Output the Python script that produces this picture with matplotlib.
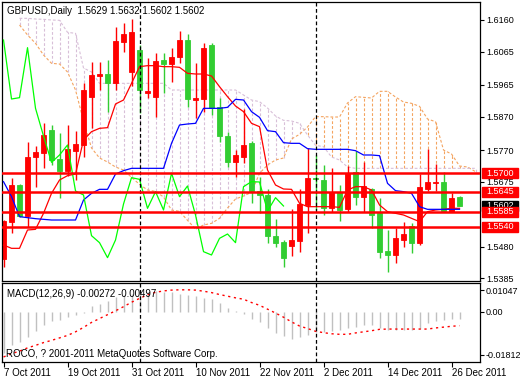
import numpy as np
import matplotlib
matplotlib.use("Agg")
import matplotlib.pyplot as plt
from matplotlib.patches import Rectangle
import matplotlib.transforms as mtransforms

plt.rcParams['font.family'] = ['Liberation Sans', 'DejaVu Sans']

nan = np.nan

# ---------------- data ----------------
date_labels = ['7 Oct 2011', '19 Oct 2011', '31 Oct 2011', '10 Nov 2011',
               '22 Nov 2011', '2 Dec 2011', '14 Dec 2011', '26 Dec 2011']
date_bars = [0, 8, 16, 24, 32, 40, 48, 56]
month_start_bars = [17, 39]

open_ = [1.5442, 1.5555, 1.5665, 1.5572, 1.5750, 1.5762, 1.5830, 1.5742, 1.5708, 1.5768,
         1.5785, 1.5930, 1.5992, 1.5998, 1.5972, 1.6095, 1.6005, 1.6070, 1.5942, 1.5930,
         1.6040, 1.6028, 1.6048, 1.6100, 1.5920, 1.5923, 1.6085, 1.5898, 1.5812, 1.5733,
         1.5750, 1.5792, 1.5647, 1.5635, 1.5512, 1.5494, 1.5483, 1.5498, 1.5605, 1.5685,
         1.5680, 1.5595, 1.5645, 1.5592, 1.5705, 1.5630, 1.5652, 1.5582, 1.5467, 1.5455,
         1.5500, 1.5543, 1.5490, 1.5653, 1.5672, 1.5675, 1.5585, 1.5629]
high = [1.5560, 1.5685, 1.5668, 1.5795, 1.5783, 1.5850, 1.5845, 1.5820, 1.5845, 1.5827,
        1.5970, 1.6035, 1.6035, 1.6040, 1.6140, 1.6150, 1.6162, 1.6085, 1.6045, 1.6060,
        1.6062, 1.6077, 1.6127, 1.6118, 1.6030, 1.6092, 1.6092, 1.5925, 1.5825, 1.5770,
        1.5892, 1.5798, 1.5690, 1.5652, 1.5562, 1.5500, 1.5592, 1.5653, 1.5775, 1.5755,
        1.5725, 1.5715, 1.5665, 1.5722, 1.5768, 1.5735, 1.5655, 1.5625, 1.5530, 1.5535,
        1.5555, 1.5551, 1.5698, 1.5772, 1.5727, 1.5705, 1.5642, 1.5632]
low = [1.5420, 1.5522, 1.5569, 1.5540, 1.5660, 1.5715, 1.5725, 1.5627, 1.5693, 1.5680,
       1.5750, 1.5835, 1.5950, 1.5885, 1.5950, 1.6065, 1.5962, 1.5882, 1.5925, 1.5870,
       1.5942, 1.5975, 1.6030, 1.5900, 1.5865, 1.5885, 1.5875, 1.5795, 1.5720, 1.5690,
       1.5732, 1.5610, 1.5580, 1.5490, 1.5480, 1.5420, 1.5453, 1.5463, 1.5522, 1.5590,
       1.5575, 1.5585, 1.5558, 1.5585, 1.5605, 1.5585, 1.5535, 1.5447, 1.5405, 1.5430,
       1.5480, 1.5462, 1.5485, 1.5647, 1.5647, 1.5585, 1.5584, 1.5602]
close = [1.5558, 1.5665, 1.5572, 1.5748, 1.5764, 1.5815, 1.5740, 1.5708, 1.5773, 1.5788,
         1.5950, 1.5995, 1.5998, 1.5970, 1.6097, 1.6118, 1.6123, 1.5950, 1.5948, 1.6037,
         1.6028, 1.6050, 1.6100, 1.5923, 1.5927, 1.6077, 1.5895, 1.5812, 1.5733, 1.5755,
         1.5785, 1.5647, 1.5635, 1.5513, 1.5492, 1.5447, 1.5500, 1.5608, 1.5687, 1.5682,
         1.5595, 1.5645, 1.5590, 1.5700, 1.5630, 1.5662, 1.5575, 1.5465, 1.5455, 1.5505,
         1.5518, 1.5492, 1.5660, 1.5675, 1.5674, 1.5587, 1.5627, 1.5602]

tenkan = [1.5485, 1.5475, 1.5475, 1.5530, 1.5532, 1.5580, 1.5640, 1.5680, 1.5693, 1.5698,
          1.5800, 1.5825, 1.5835, 1.5837, 1.5908, 1.5920, 1.5970, 1.6020, 1.6023, 1.6023,
          1.6020, 1.6020, 1.6018, 1.6000, 1.5998, 1.5998, 1.5992, 1.5960, 1.5930, 1.5902,
          1.5885, 1.5850, 1.5840, 1.5710, 1.5665, 1.5653, 1.5652, 1.5610, 1.5600, 1.5600,
          1.5600, 1.5600, 1.5598, 1.5650, 1.5660, 1.5660, 1.5650, 1.5605, 1.5585, 1.5580,
          1.5575, 1.5565, 1.5555, 1.5585, 1.5590, 1.5592, 1.5595, 1.5595]
kijun = [1.5675, 1.5630, 1.5570, 1.5567, 1.5564, 1.5562, 1.5560, 1.5560, 1.5560, 1.5560,
         1.5620, 1.5640, 1.5652, 1.5652, 1.5698, 1.5708, 1.5715, 1.5715, 1.5715, 1.5715,
         1.5715, 1.5790, 1.5845, 1.5848, 1.5850, 1.5895, 1.5895, 1.5895, 1.5898, 1.5922,
         1.5920, 1.5885, 1.5868, 1.5828, 1.5825, 1.5792, 1.5790, 1.5790, 1.5774, 1.5772,
         1.5772, 1.5772, 1.5772, 1.5772, 1.5768, 1.5755, 1.5755, 1.5753, 1.5670, 1.5648,
         1.5645, 1.5640, 1.5600, 1.5592, 1.5592, 1.5592, 1.5592, 1.5592]
chikou = [1.6100, 1.5923, 1.5927, 1.6077, 1.5895, 1.5812, 1.5733, 1.5755, 1.5785, 1.5647,
          1.5635, 1.5513, 1.5492, 1.5447, 1.5500, 1.5608, 1.5687, 1.5682, 1.5595, 1.5645,
          1.5590, 1.5700, 1.5630, 1.5662, 1.5575, 1.5465, 1.5455, 1.5505, 1.5518, 1.5492,
          1.5660, 1.5675, 1.5674, 1.5587, 1.5627, 1.5602]
span_a = [nan, nan, 1.6145, 1.6115, 1.6090, 1.6055, 1.6030, 1.6028, 1.6004, 1.5950,
          1.5857, 1.5776, 1.5746, 1.5734, 1.5719, 1.5710, 1.5688, 1.5667, 1.5650, 1.5646,
          1.5629, 1.5590, 1.5586, 1.5559, 1.5533, 1.5545, 1.5550, 1.5565, 1.5596, 1.5623,
          1.5632, 1.5643, 1.5700, 1.5725, 1.5740, 1.5746, 1.5803, 1.5817, 1.5839, 1.5870,
          1.5870, 1.5869, 1.5869, 1.5911, 1.5930, 1.5928, 1.5926, 1.5946, 1.5946, 1.5929,
          1.5914, 1.5910, 1.5901, 1.5863, 1.5855, 1.5770, 1.5758, 1.5722, 1.5719, 1.5705]
span_b = [nan, nan, 1.6165, 1.6165, 1.6163, 1.6162, 1.6160, 1.6159, 1.6123, 1.6120,
          1.6016, 1.6004, 1.5970, 1.5970, 1.5970, 1.5970, 1.5970, 1.5970, 1.5970, 1.5970,
          1.5970, 1.5950, 1.5950, 1.5950, 1.5950, 1.5950, 1.5950, 1.5950, 1.5950, 1.5950,
          1.5935, 1.5920, 1.5915, 1.5896, 1.5872, 1.5859, 1.5857, 1.5850, 1.5815, 1.5784,
          1.5780, 1.5749, 1.5740, 1.5719, 1.5715, 1.5715, 1.5715, 1.5715, 1.5715, 1.5715,
          1.5715, 1.5715, 1.5715, 1.5715, 1.5715, 1.5715, 1.5715, 1.5715, 1.5715, 1.5715]

macd_main = [-0.0150, -0.0121, -0.0109, -0.0091, -0.0070, -0.0048, -0.0034, -0.0030, -0.0018, -0.0010,
             -0.0004, 0.0022, 0.0027, 0.0039, 0.0054, 0.0063, 0.0066, 0.0072, 0.0072, 0.0075,
             0.0072, 0.0072, 0.0066, 0.0060, 0.0058, 0.0051, 0.0048, 0.0034, 0.0015, 0.0002,
             -0.0006, -0.0024, -0.0036, -0.0057, -0.0075, -0.0088, -0.0097, -0.0092, -0.0082, -0.0072,
             -0.0072, -0.0069, -0.0066, -0.0057, -0.0054, -0.0048, -0.0048, -0.0058, -0.0064, -0.0066,
             -0.0066, -0.0066, -0.0060, -0.0040, -0.0033, -0.0030, -0.0026, -0.00272]
macd_signal = [-0.0163, -0.0151, -0.0142, -0.0130, -0.0121, -0.0111, -0.0103, -0.0094, -0.0085, -0.0072,
               -0.0056, -0.0038, -0.0024, -0.0010, 0.0004, 0.0019, 0.0035, 0.0049, 0.0062, 0.0071,
               0.0076, 0.0079, 0.0080, 0.0080, 0.0079, 0.0075, 0.0070, 0.0063, 0.0057, 0.0051,
               0.0046, 0.0034, 0.0024, 0.0010, -0.0004, -0.0019, -0.0036, -0.0051, -0.0060, -0.0070,
               -0.0075, -0.0079, -0.0081, -0.0081, -0.0076, -0.0072, -0.0068, -0.0063, -0.0062, -0.0062,
               -0.0062, -0.0062, -0.0062, -0.0062, -0.0058, -0.0055, -0.0052, -0.00497]

levels = [1.5700, 1.5645, 1.5585, 1.5540]
level_labels = ['1.5700', '1.5645', '1.5585', '1.5540']
last_price = 1.5602
price_ticks = [1.6160, 1.6065, 1.5965, 1.5870, 1.5770, 1.5675, 1.5480, 1.5385]
price_range = (1.5377, 1.6214)
macd_range = (-0.01812, 0.01047)
macd_tick_labels = ['0.01047', '0.00', '-0.01812']
title = 'GBPUSD,Daily  1.5629 1.5632 1.5602 1.5602'
macd_title = 'MACD(12,26,9) -0.00272 -0.00497'
copyright_text = 'ROCO, ? 2001-2011 MetaQuotes Software Corp.'

# ---------------- styles ----------------
BULL = '#FF0000'
BEAR = '#32CD32'
SANDY = '#F4A460'
THISTLE = '#D8BFD8'
FS = 6.5
FS_TXT = 7.0

W, H = 520, 380
fig = plt.figure(figsize=(W / 100, H / 100), dpi=100)
fig.patch.set_facecolor('white')


def rect(x0, y0, x1, y1):
    return [x0 / W, 1 - y1 / H, (x1 - x0) / W, (y1 - y0) / H]


ax = fig.add_axes(rect(2, 2, 480, 281))
ax2 = fig.add_axes(rect(2, 283, 480, 362))

xlim = (-0.19, 59.56)
for a in (ax, ax2):
    a.set_xlim(*xlim)
    a.set_facecolor('white')
    for s in a.spines.values():
        s.set_linewidth(0.9)
        s.set_color('black')

ax.set_ylim(*price_range)
ax2.set_ylim(*macd_range)

o = np.array(open_); h = np.array(high); l = np.array(low); c = np.array(close)
xb = np.arange(len(o))
cols = [BULL if cc >= oo else BEAR for oo, cc in zip(o, c)]

# Ichimoku cloud
sa = np.array(span_a); sb = np.array(span_b)
xc = np.arange(len(sa))
ok = ~np.isnan(sa)
for xi, a_, b_ in zip(xc[ok], sa[ok], sb[ok]):
    colr = SANDY if a_ > b_ else THISTLE
    ax.vlines(xi, min(a_, b_), max(a_, b_), colors=colr, linewidth=0.8,
              linestyles=(0, (2.5, 1.8)), zorder=1)
ax.plot(xc, sa, color=SANDY, lw=0.8, ls=(0, (2.5, 1.8)), zorder=1.2)
ax.plot(xc, sb, color=THISTLE, lw=0.8, ls=(0, (2.5, 1.8)), zorder=1.2)

# candles
ax.vlines(xb, l, h, colors=cols, linewidth=1.0, zorder=2)
ax.bar(xb, np.abs(c - o), bottom=np.minimum(o, c), width=0.56, color=cols,
       edgecolor=cols, linewidth=0.6, zorder=2.1)

# indicator lines
ax.plot(np.arange(len(tenkan)), tenkan, color='#FF0000', lw=0.9, zorder=3)
ax.plot(np.arange(len(kijun)), kijun, color='#0000FF', lw=0.9, zorder=3)
ax.plot(np.arange(len(chikou)), chikou, color='#00FF00', lw=0.9, zorder=3)

# support / resistance lines
for lv in levels:
    ax.axhline(lv, color='#FF0000', lw=1.8, zorder=5)

# month separators
for a in (ax, ax2):
    for ms in month_start_bars:
        a.axvline(ms, color='black', lw=0.9, ls=(0, (3, 2)), zorder=4)

# price axis
ax.set_xticks([])
ax.yaxis.tick_right()
ax.set_yticks(price_ticks)
ax.set_yticklabels(['%.4f' % t for t in price_ticks])
ax.tick_params(axis='y', direction='out', length=3, width=0.8, pad=1.2,
               labelsize=FS, colors='black')

# labels on the price axis
btrans = mtransforms.blended_transform_factory(ax.transAxes, ax.transData)
box_x0, box_w = 1.0036, 0.0757
box_h = 0.0030


def price_box(val, txt, fc, z):
    ax.add_patch(Rectangle((box_x0, val - box_h / 2), box_w, box_h, transform=btrans,
                           facecolor=fc, edgecolor=fc, clip_on=False, zorder=z))
    ax.text(box_x0 + box_w / 2, val, txt, transform=btrans, ha='center', va='center',
            color='white', fontsize=FS, clip_on=False, zorder=z + 0.5)


price_box(last_price, '%.4f' % last_price, 'black', 6)
for lv, lt in zip(levels, level_labels):
    price_box(lv, lt, '#FF0000', 7)

fig.text(7 / W, 1 - 11 / H, title, fontsize=FS_TXT, va='center', ha='left', color='black')

# MACD panel
xm = np.arange(len(macd_main))
ax2.vlines(xm, 0, macd_main, colors='#C0C0C0', linewidth=1.0, zorder=2)
ax2.plot(xm, macd_signal, color='#FF0000', lw=1.0, ls=(0, (1.6, 2.6)), zorder=3)

span = macd_range[1] - macd_range[0]
ax2.yaxis.tick_right()
ax2.set_yticks([macd_range[1] - 0.09 * span, 0.0, macd_range[0] + 0.09 * span])
ax2.set_yticklabels(macd_tick_labels)
ax2.tick_params(axis='y', direction='out', length=3, width=0.8, pad=0.8,
                labelsize=FS, colors='black')
ax2.set_xticks(date_bars)
ax2.set_xticklabels(date_labels)
for lbl in ax2.get_xticklabels():
    lbl.set_ha('left')
ax2.tick_params(axis='x', direction='out', length=3.5, width=0.8, pad=1.0,
                labelsize=FS_TXT, colors='black')

fig.text(7 / W, 1 - 294 / H, macd_title, fontsize=FS_TXT, va='center', ha='left', color='black')
fig.text(6 / W, 1 - 354 / H, copyright_text, fontsize=FS_TXT, va='center', ha='left', color='black')

fig.savefig('out.png', dpi=100, facecolor='white')
